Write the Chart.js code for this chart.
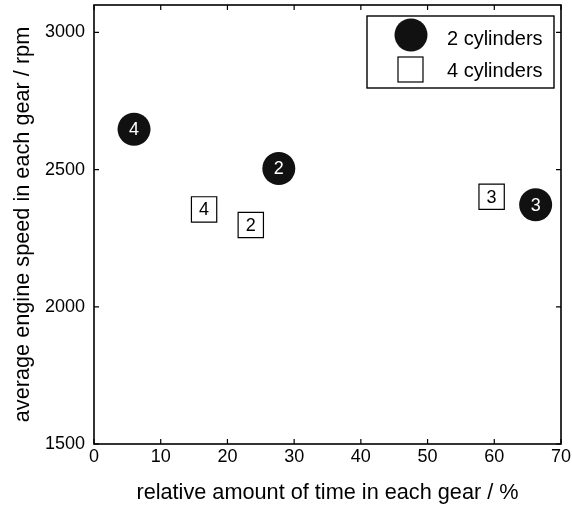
<!DOCTYPE html>
<html>
<head>
<meta charset="utf-8">
<script src="https://cdn.jsdelivr.net/npm/chart.js@4.4.1/dist/chart.umd.min.js"></script>
<style>
  html, body { margin: 0; padding: 0; background: #fff; }
  #wrap { width: 572px; height: 507px; position: relative; }
</style>
</head>
<body>
<div id="wrap"><canvas id="c" width="572" height="507"></canvas></div>
<script>
// Share of driving time per gear (%) and average engine speed (rpm)
const twoCylTime  = [6, 27.7, 66.2];
const twoCylRpm   = [2647, 2504, 2372];
const twoCylGear  = ['4', '2', '3'];

const fourCylTime = [16.5, 23.5, 59.6];
const fourCylRpm  = [2355, 2298, 2401];
const fourCylGear = ['4', '2', '3'];

const xTicks = [0, 10, 20, 30, 40, 50, 60, 70];
const yTicks = [1500, 2000, 2500, 3000];

const seriesNames = ['2 cylinders', '4 cylinders'];

const FONT = 'Liberation Sans, Arial, Helvetica, sans-serif';

function toPoints(xs, ys) {
  return xs.map((x, i) => ({ x: x, y: ys[i] }));
}

// Frame, inward ticks on all four sides, gear numbers inside markers, legend box
const decorations = {
  id: 'decorations',
  afterDatasetsDraw(chart) {
    const ctx = chart.ctx;
    const a = chart.chartArea;
    const xs = chart.scales.x, ys = chart.scales.y;
    const tl = 5;
    ctx.save();
    ctx.strokeStyle = '#000';
    ctx.lineWidth = 1.6;
    ctx.strokeRect(a.left, a.top, a.right - a.left, a.bottom - a.top);
    ctx.lineWidth = 1.2;
    ctx.beginPath();
    xTicks.forEach(v => {
      const p = xs.getPixelForValue(v);
      ctx.moveTo(p, a.bottom); ctx.lineTo(p, a.bottom - tl);
      ctx.moveTo(p, a.top);    ctx.lineTo(p, a.top + tl);
    });
    yTicks.forEach(v => {
      const p = ys.getPixelForValue(v);
      ctx.moveTo(a.left, p);  ctx.lineTo(a.left + tl, p);
      ctx.moveTo(a.right, p); ctx.lineTo(a.right - tl, p);
    });
    ctx.stroke();

    // gear numbers
    ctx.font = '18px ' + FONT;
    ctx.textAlign = 'center';
    ctx.textBaseline = 'middle';
    const labelSets = [twoCylGear, fourCylGear];
    chart.data.datasets.forEach((ds, di) => {
      const meta = chart.getDatasetMeta(di);
      ctx.fillStyle = di === 0 ? '#fff' : '#000';
      meta.data.forEach((el, i) => {
        ctx.fillText(labelSets[di][i], el.x, el.y + 1);
      });
    });

    // legend
    const lx = a.right - 194, ly = a.top + 11, lw = 187, lh = 72;
    ctx.fillStyle = '#fff';
    ctx.fillRect(lx, ly, lw, lh);
    ctx.lineWidth = 1.4;
    ctx.strokeStyle = '#000';
    ctx.strokeRect(lx, ly, lw, lh);
    ctx.fillStyle = '#111';
    ctx.beginPath();
    ctx.arc(lx + 44, ly + 19, 16.5, 0, Math.PI * 2);
    ctx.fill();
    ctx.lineWidth = 1.2;
    ctx.strokeRect(lx + 31, ly + 41, 25, 25);
    ctx.fillStyle = '#000';
    ctx.textAlign = 'left';
    ctx.font = '20px ' + FONT;
    ctx.fillText(seriesNames[0], lx + 80, ly + 23);
    ctx.fillText(seriesNames[1], lx + 80, ly + 55);
    ctx.restore();
  }
};

new Chart(document.getElementById('c'), {
  type: 'scatter',
  data: {
    datasets: [
      {
        label: seriesNames[0],
        data: toPoints(twoCylTime, twoCylRpm),
        pointStyle: 'circle',
        pointRadius: 16.5,
        pointHoverRadius: 16.5,
        backgroundColor: '#111',
        borderColor: '#111',
        borderWidth: 0
      },
      {
        label: seriesNames[1],
        data: toPoints(fourCylTime, fourCylRpm),
        pointStyle: 'rect',
        pointRadius: 17.9,
        pointHoverRadius: 17.9,
        backgroundColor: '#fff',
        borderColor: '#000',
        borderWidth: 1.2
      }
    ]
  },
  options: {
    responsive: false,
    animation: false,
    events: [],
    layout: { autoPadding: false, padding: { left: 0, right: 11, top: 5, bottom: 0 } },
    plugins: {
      legend: { display: false },
      tooltip: { enabled: false }
    },
    scales: {
      x: {
        type: 'linear',
        min: 0,
        max: 70,
        afterBuildTicks(scale) { scale.ticks = xTicks.map(v => ({ value: v })); },
        afterFit(scale) {
          scale.height = 63;
          scale.paddingLeft = 0;
          scale.paddingRight = 0;
        },
        grid: { display: false, drawTicks: false },
        border: { display: false },
        ticks: {
          padding: 2,
          color: '#000',
          font: { family: FONT, size: 18 },
          callback: v => String(v)
        },
        title: {
          display: true,
          text: 'relative amount of time in each gear / %',
          color: '#000',
          font: { family: FONT, size: 21.7 },
          padding: { top: 0, bottom: 1 }
        }
      },
      y: {
        type: 'linear',
        min: 1500,
        max: 3100,
        afterBuildTicks(scale) { scale.ticks = yTicks.map(v => ({ value: v })); },
        afterFit(scale) {
          scale.width = 94;
          scale.paddingTop = 0;
          scale.paddingBottom = 0;
        },
        grid: { display: false, drawTicks: false },
        border: { display: false },
        ticks: {
          padding: 9,
          color: '#000',
          font: { family: FONT, size: 18 },
          callback: v => String(v)
        },
        title: {
          display: true,
          text: 'average engine speed in each gear / rpm',
          color: '#000',
          font: { family: FONT, size: 21.7 },
          padding: { top: 10, bottom: 0 }
        }
      }
    }
  },
  plugins: [decorations]
});
</script>
</body>
</html>
